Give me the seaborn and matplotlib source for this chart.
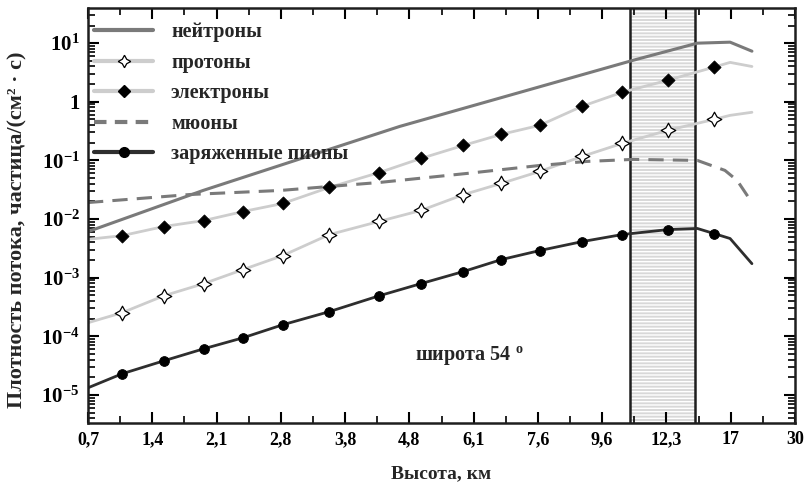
import matplotlib
matplotlib.use('Agg')
import matplotlib.pyplot as plt
import seaborn as sns
import numpy as np
from matplotlib.lines import Line2D
from matplotlib.ticker import LogLocator, NullFormatter, FixedLocator

# ---------------- data ----------------
x_labels = ['0,7', '1,4', '2,1', '2,8', '3,8', '4,8', '6,1', '7,6', '9,6', '12,3', '17', '30']

# positions along the (equally spaced) altitude axis where markers sit
x_mark = [0.53, 1.18, 1.80, 2.41, 3.03, 3.75, 4.53, 5.18, 5.84, 6.43, 7.03, 7.69, 8.31, 9.02, 9.74]

neutron_x = [0, 1.79, 4.85, 8.48, 9.48, 9.99, 10.33]
neutron_y = [6.1e-3, 0.0307, 0.38, 5.1, 10.0, 10.4, 7.3]

proton_mark = [2.52e-4, 4.9e-4, 7.9e-4, 1.37e-3, 2.38e-3, 5.4e-3, 9.1e-3, 0.014,
               0.026, 0.0405, 0.065, 0.117, 0.195, 0.326, 0.50]
proton_x = [0] + x_mark + [9.99, 10.33]
proton_y = [1.7e-4] + proton_mark + [0.587, 0.662]

electron_mark = [5.2e-3, 7.45e-3, 9.4e-3, 0.0134, 0.0184, 0.0345, 0.062, 0.108,
                 0.18, 0.278, 0.397, 0.84, 1.45, 2.33, 3.9]
electron_x = [0] + x_mark + [9.99, 10.33]
electron_y = [4.5e-3] + electron_mark + [4.7, 4.0]

muon_x = [0, 1.59, 2.99, 4.54, 5.90, 7.03, 7.76, 8.48, 9.48, 9.91, 10.1, 10.33]
muon_y = [0.0191, 0.0262, 0.0307, 0.0421, 0.060, 0.082, 0.096, 0.104, 0.100, 0.0675, 0.0455, 0.0191]

pion_mark = [2.29e-5, 3.81e-5, 6.11e-5, 9.4e-5, 1.57e-4, 2.62e-4, 4.9e-4, 7.9e-4,
             1.27e-3, 2.03e-3, 2.9e-3, 4.12e-3, 5.43e-3, 6.6e-3, 5.65e-3]
pion_x = [0] + x_mark[:14] + [9.48, 9.74, 9.99, 10.33]
pion_y = [1.32e-5] + pion_mark[:14] + [6.9e-3, 5.65e-3, 4.65e-3, 1.73e-3]

band_range = [8.43, 9.44]

y_ticks = [1e-5, 1e-4, 1e-3, 1e-2, 1e-1, 1, 10]
y_labels = [r'$\mathbf{10^{-5}}$', r'$\mathbf{10^{-4}}$', r'$\mathbf{10^{-3}}$',
            r'$\mathbf{10^{-2}}$', r'$\mathbf{10^{-1}}$', '1', r'$\mathbf{10^{1}}$']

legend_labels = ['нейтроны', 'протоны', 'электроны', 'мюоны', 'заряженные пионы']

# ---------------- style ----------------
sns.set_theme(style='ticks')
plt.rcParams['font.family'] = ['Liberation Serif', 'DejaVu Serif']
plt.rcParams['font.weight'] = 'bold'
plt.rcParams['mathtext.fontset'] = 'custom'
plt.rcParams['mathtext.rm'] = 'Liberation Serif:bold'
plt.rcParams['mathtext.bf'] = 'Liberation Serif:bold'
plt.rcParams['mathtext.it'] = 'Liberation Serif:bold'

c_neut = '#7a7a7a'
c_light = '#cdcdcd'
c_muon = '#7a7a7a'
c_pion = '#2e2e2e'

fig = plt.figure(figsize=(8.06, 4.9), dpi=100)
ax = fig.add_axes([88 / 806, 1 - 423 / 490, 707 / 806, 415 / 490])

# shaded band
ax.axvspan(band_range[0], band_range[1], facecolor='#d8d8d8', edgecolor='white',
           hatch='-----', linewidth=0, zorder=0)
for b in band_range:
    ax.axvline(b, color='#1e1e1e', lw=1.8, zorder=1)

# lines
sns.lineplot(x=neutron_x, y=neutron_y, ax=ax, color=c_neut, linewidth=2.2,
             estimator=None, sort=False, legend=False, zorder=2)
sns.lineplot(x=proton_x, y=proton_y, ax=ax, color=c_light, linewidth=2.0,
             estimator=None, sort=False, legend=False, zorder=2)
sns.lineplot(x=electron_x, y=electron_y, ax=ax, color=c_light, linewidth=2.0,
             estimator=None, sort=False, legend=False, zorder=2)
sns.lineplot(x=muon_x, y=muon_y, ax=ax, color=c_muon, linewidth=2.2,
             estimator=None, sort=False, legend=False, zorder=2)
ax.lines[-1].set_dashes([5, 3])
sns.lineplot(x=pion_x, y=pion_y, ax=ax, color=c_pion, linewidth=2.0,
             estimator=None, sort=False, legend=False, zorder=2)

# markers
star = (4, 1, 0)
sns.scatterplot(x=x_mark, y=proton_mark, ax=ax, marker=star, s=110, color='white',
                edgecolor='black', linewidth=0.9, legend=False, zorder=5)
sns.scatterplot(x=x_mark, y=electron_mark, ax=ax, marker='D', s=45, color='black',
                edgecolor='black', legend=False, zorder=5)
sns.scatterplot(x=x_mark, y=pion_mark, ax=ax, marker='o', s=50, color='black',
                edgecolor='black', legend=False, zorder=5)

# axes
ax.set_yscale('log')
ax.set_xlim(0, 11)
ax.set_ylim(10 ** -5.48, 10 ** 1.6)
ax.set_xticks(range(len(x_labels)))
ax.set_xticklabels(x_labels, fontsize=13, fontweight='bold')
ax.xaxis.set_minor_locator(FixedLocator([i + 0.5 for i in range(len(x_labels) - 1)]))
ax.set_yticks(y_ticks)
ax.set_yticklabels(y_labels, fontsize=15, fontweight='bold')
ax.yaxis.set_minor_locator(LogLocator(base=10, subs=np.arange(2, 10) * 1.0, numticks=100))
ax.yaxis.set_minor_formatter(NullFormatter())
ax.tick_params(which='both', direction='in', top=True, right=True, colors='black')
ax.tick_params(which='major', length=8, width=1.5, pad=6)
ax.tick_params(which='minor', length=5, width=1.2)
for sp in ax.spines.values():
    sp.set_linewidth(1.8)
    sp.set_color('#1e1e1e')

ax.set_xlabel('Высота, км', fontsize=14, fontweight='bold', labelpad=12)
ax.set_ylabel('Плотность потока, частица/(см² · с)', fontsize=16, fontweight='bold')
ax.yaxis.set_label_coords(-0.086, 0.465)

ax.text((415 - 88) / 707, 1 - (355 - 8) / 415, r'широта 54 $^{\mathbf{o}}$', transform=ax.transAxes,
        fontsize=14.5, fontweight='bold', ha='left', va='center')

# legend
handles = [
    Line2D([], [], color=c_neut, lw=3),
    Line2D([], [], color=c_light, lw=3, marker=star, markersize=9, markerfacecolor='white',
           markeredgecolor='black', markeredgewidth=0.9),
    Line2D([], [], color=c_light, lw=3, marker='D', markersize=6, markerfacecolor='black',
           markeredgecolor='black'),
    Line2D([], [], color=c_muon, lw=3, dashes=[3, 2]),
    Line2D([], [], color=c_pion, lw=3, marker='o', markersize=7, markerfacecolor='black',
           markeredgecolor='black'),
]
leg = ax.legend(handles, legend_labels, loc='upper left', bbox_to_anchor=(-0.008, 0.995),
                frameon=False, fontsize=14.5, handlelength=2.9, handletextpad=0.9,
                labelspacing=0.52, numpoints=1, borderaxespad=0.2)
for t in leg.get_texts():
    t.set_fontweight('bold')

fig.savefig('out.png', dpi=100)
